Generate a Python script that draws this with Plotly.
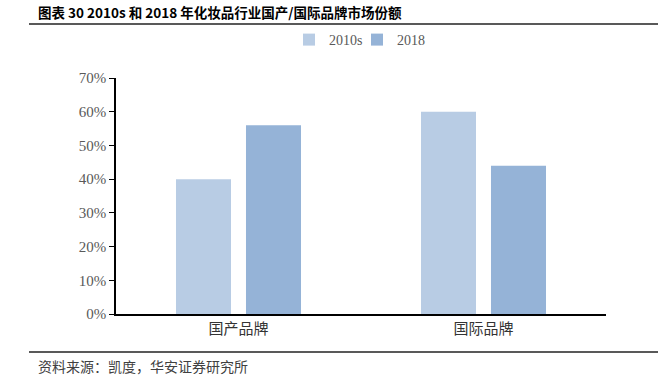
import plotly.graph_objects as go

categories = ["国产品牌", "国际品牌"]
series_names = ["2010s", "2018"]
values_2010s = [0.40, 0.60]
values_2018 = [0.56, 0.44]
tick_vals = [0, 0.1, 0.2, 0.3, 0.4, 0.5, 0.6, 0.7]
tick_text = ["0%", "10%", "20%", "30%", "40%", "50%", "60%", "70%"]
title_text = "图表 30 2010s 和 2018 年化妆品行业国产/国际品牌市场份额"
source_text = "资料来源：凯度，华安证券研究所"

colors = ["#B8CCE4", "#95B3D7"]
legend_ids = ["legend", "legend2"]
W, H = 658, 390
L, R, T, B = 116, 52, 78, 76

fig = go.Figure()
for name, vals, c, lg in zip(series_names, [values_2010s, values_2018], colors, legend_ids):
    fig.add_trace(go.Bar(x=categories, y=vals, name=name, legend=lg,
                         marker=dict(color=c, line=dict(width=0))))

def px_x(p):
    return (p - L) / (W - L - R)

def px_y(p):
    return (H - B - p) / (H - T - B)

legend_style = dict(orientation="h", yanchor="middle", xanchor="left",
                    font=dict(family="Liberation Serif", size=14, color="#595959"),
                    itemwidth=30, bgcolor="rgba(0,0,0,0)")

fig.update_layout(
    width=W, height=H,
    margin=dict(l=L, r=R, t=T, b=B, autoexpand=False),
    paper_bgcolor="white", plot_bgcolor="white",
    barmode="group", bargap=0.4286, bargroupgap=0.214,
    showlegend=True,
    legend=dict(x=px_x(289), y=px_y(40), **legend_style),
    legend2=dict(x=px_x(357), y=px_y(40), **legend_style),
    xaxis=dict(showline=True, linecolor="#000000", linewidth=1.5, ticks="",
               tickfont=dict(family="Noto Sans CJK SC", size=15, color="#333333"),
               showgrid=False, zeroline=False),
    yaxis=dict(range=[0, 0.7], tickvals=tick_vals, ticktext=tick_text,
               showline=True, linecolor="#000000", linewidth=1.5,
               ticks="outside", ticklen=5, tickcolor="#000000", tickwidth=1,
               tickfont=dict(family="Liberation Serif", size=15, color="#595959"),
               showgrid=False, zeroline=False),
    font=dict(family="Liberation Serif"),
)

fig.add_annotation(text="<b>" + title_text + "</b>", xref="paper", yref="paper",
                   x=px_x(36), y=px_y(12), xanchor="left", yanchor="middle", showarrow=False,
                   font=dict(family="Noto Sans CJK SC", size=13.5, color="#000000"))
fig.add_annotation(text=source_text, xref="paper", yref="paper",
                   x=px_x(36), y=px_y(366), xanchor="left", yanchor="middle", showarrow=False,
                   font=dict(family="Noto Sans CJK SC", size=14, color="#404040"))
fig.add_shape(type="line", xref="paper", yref="paper", x0=px_x(29), x1=px_x(658),
              y0=px_y(24), y1=px_y(24), line=dict(color="#222222", width=1.5))
fig.add_shape(type="line", xref="paper", yref="paper", x0=px_x(29), x1=px_x(658),
              y0=px_y(352), y1=px_y(352), line=dict(color="#222222", width=1.5))

fig.write_html("out.html", config={"displayModeBar": False},
               post_script="document.body.style.margin='0';document.body.style.overflow='hidden';")
